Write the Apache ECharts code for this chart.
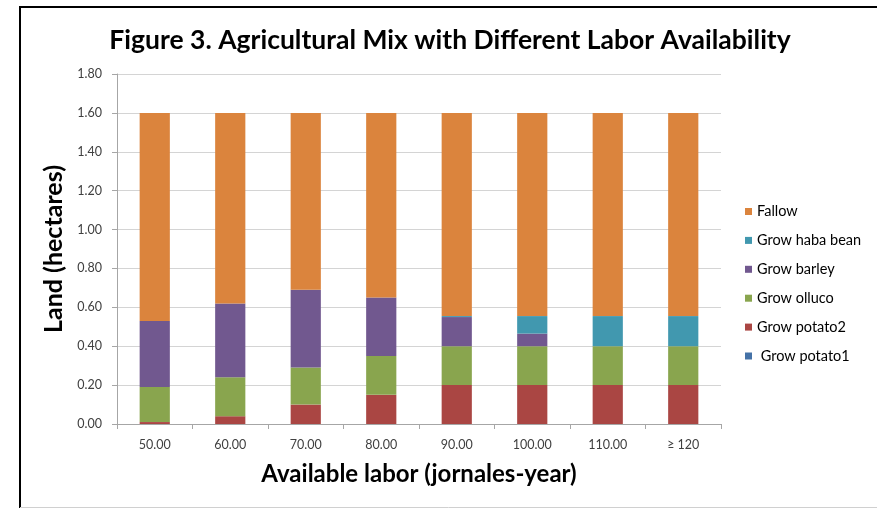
<!DOCTYPE html>
<html>
<head>
<meta charset="utf-8">
<script src="https://cdn.jsdelivr.net/npm/echarts@6/dist/echarts.min.js"></script>
<style>
  html, body { margin: 0; padding: 0; background: #fff; }
  #chart { width: 877px; height: 508px; }
</style>
</head>
<body>
<div id="chart"></div>
<script>
// Labor availability levels (jornales-year)
const categories = ['50.00', '60.00', '70.00', '80.00', '90.00', '100.00', '110.00', '\u2265 120'];

// Land allocated to each activity, hectares (stacked from bottom to top)
const potato1 = [0, 0, 0, 0, 0, 0, 0, 0];
const potato2 = [0.01, 0.04, 0.10, 0.15, 0.20, 0.20, 0.20, 0.20];
const olluco  = [0.18, 0.20, 0.19, 0.20, 0.20, 0.20, 0.20, 0.20];
const barley  = [0.34, 0.38, 0.40, 0.30, 0.15, 0.065, 0, 0];
const habaBean = [0, 0, 0, 0, 0.005, 0.09, 0.155, 0.155];
const fallow  = [1.07, 0.98, 0.91, 0.95, 1.045, 1.045, 1.045, 1.045];

const yTicks = { min: 0, max: 1.8, interval: 0.2 };

const seriesDefs = [
  { name: 'Grow potato1', data: potato1, color: '#4572A7' },
  { name: 'Grow potato2', data: potato2, color: '#AA4643' },
  { name: 'Grow olluco', data: olluco, color: '#89A54E' },
  { name: 'Grow barley', data: barley, color: '#71588F' },
  { name: 'Grow haba bean', data: habaBean, color: '#4198AF' },
  { name: 'Fallow', data: fallow, color: '#DB843D' }
];

const font = 'Lato, "Open Sans", sans-serif';

const chart = echarts.init(document.getElementById('chart'), null, { renderer: 'canvas' });
chart.setOption({
  animation: false,
  backgroundColor: '#fff',
  textStyle: { fontFamily: font },
  title: {
    text: 'Figure 3. Agricultural Mix with Different Labor Availability',
    left: 445, top: 22, textAlign: 'center',
    textStyle: { fontFamily: font, fontSize: 26.5, fontWeight: 'bold', color: '#000' }
  },
  graphic: [
    { type: 'polyline', shape: { points: [[20, 508], [20, 7], [877, 7]] },
      style: { stroke: '#000', lineWidth: 2, fill: null } },
    { type: 'line', shape: { x1: 20, y1: 507.5, x2: 877, y2: 507.5 },
      style: { stroke: '#d0d0d0', lineWidth: 1 } }
  ],
  legend: {
    orient: 'vertical',
    left: 745, top: 204,
    padding: 0,
    itemWidth: 7, itemHeight: 7, itemGap: 13.9,
    icon: 'rect',
    data: seriesDefs.map(s => s.name).reverse(),
    formatter: name => name === 'Grow potato1' ? ' ' + name : name,
    textStyle: { fontFamily: font, fontSize: 14.5, lineHeight: 14, color: '#000' }
  },
  grid: { left: 117, right: 156, top: 74, bottom: 84 },
  xAxis: {
    type: 'category',
    data: categories,
    name: 'Available labor (jornales-year)',
    nameLocation: 'middle', nameGap: 38,
    nameTextStyle: { fontFamily: font, fontSize: 24, fontWeight: 'bold', color: '#000' },
    axisLine: { lineStyle: { color: '#a6a6a6' } },
    axisTick: { show: true, length: 5, alignWithLabel: false, lineStyle: { color: '#a6a6a6' } },
    axisLabel: { margin: 14, fontSize: 12.5, color: '#404040' }
  },
  yAxis: {
    type: 'value',
    min: yTicks.min, max: yTicks.max, interval: yTicks.interval,
    name: 'Land (hectares)',
    nameLocation: 'middle', nameGap: 47,
    nameTextStyle: { fontFamily: font, fontSize: 25, fontWeight: 'bold', color: '#000' },
    axisLine: { show: true, lineStyle: { color: '#a6a6a6' } },
    axisTick: { show: true, length: 5, lineStyle: { color: '#a6a6a6' } },
    splitLine: { lineStyle: { color: '#d4d4d4' } },
    axisLabel: { margin: 15, fontSize: 12.5, color: '#404040', formatter: v => v.toFixed(2) }
  },
  series: seriesDefs.map(s => ({
    name: s.name,
    type: 'bar',
    stack: 'land',
    barWidth: '40%',
    data: s.data,
    itemStyle: { color: s.color }
  }))
});
</script>
</body>
</html>
